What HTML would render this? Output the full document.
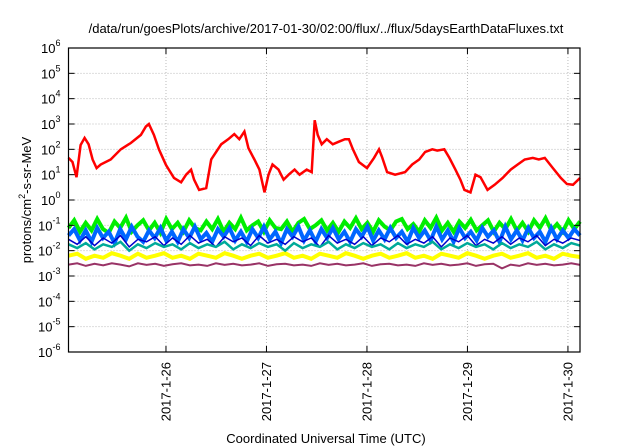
<!DOCTYPE html>
<html><head><meta charset="utf-8"><style>
html,body{margin:0;padding:0;background:#fff;}
svg{display:block;font-family:"Liberation Sans",sans-serif;}
</style></head><body>
<svg id="chart" width="640" height="448" viewBox="0 0 640 448"></svg>
<script>
// ---- data ----
const xTickLabels = ["2017-1-26","2017-1-27","2017-1-28","2017-1-29","2017-1-30"];
const xTickDays = [26,27,28,29,30];
const yTickExps = [-6,-5,-4,-3,-2,-1,0,1,2,3,4,5,6];
const redDays = [25.03,25.07,25.11,25.15,25.19,25.23,25.27,25.31,25.35,25.45,25.55,25.65,25.75,25.8,25.83,25.88,25.93,26.0,26.08,26.15,26.2,26.25,26.28,26.33,26.4,26.45,26.55,26.62,26.68,26.73,26.78,26.82,26.88,26.93,26.98,27.02,27.06,27.12,27.17,27.22,27.28,27.33,27.4,27.45,27.48,27.51,27.55,27.6,27.66,27.72,27.78,27.82,27.86,27.92,28.0,28.07,28.12,28.15,28.2,28.28,28.38,28.45,28.52,28.58,28.65,28.7,28.77,28.82,28.88,28.93,28.97,29.03,29.08,29.13,29.2,29.27,29.35,29.43,29.5,29.57,29.65,29.71,29.77,29.85,29.93,29.99,30.05,30.12];
const redLog = [1.66,1.5,0.9,2.17,2.45,2.2,1.6,1.26,1.4,1.6,2.0,2.25,2.57,2.9,3.0,2.57,2.0,1.38,0.87,0.7,1.0,1.2,0.8,0.4,0.47,1.6,2.2,2.4,2.6,2.4,2.7,2.05,1.6,1.2,0.3,1.0,1.4,1.2,0.8,1.0,1.2,1.0,1.2,1.1,3.15,2.57,2.2,2.4,2.2,2.3,2.4,2.4,2.0,1.5,1.26,1.66,2.0,1.7,1.1,1.0,1.1,1.4,1.6,1.9,2.0,1.95,2.0,1.66,1.2,0.8,0.4,0.3,1.0,0.9,0.4,0.6,0.87,1.2,1.4,1.6,1.66,1.6,1.66,1.26,0.87,0.63,0.6,0.87];
const greenLog = [-1.1,-0.8,-1.25,-0.9,-1.2,-0.75,-1.15,-1.3,-0.85,-1.1,-0.7,-1.25,-1.0,-0.8,-1.2,-0.9,-1.3,-0.75,-1.15,-0.9,-1.25,-0.8,-1.1,-1.2,-0.85,-1.15,-0.75,-1.25,-0.9,-1.15,-0.7,-1.2,-1.0,-0.85,-1.25,-0.8,-1.1,-1.15,-0.85,-1.25,-0.9,-0.75,-1.15,-1.0,-0.8,-1.2,-0.9,-1.25,-0.85,-1.1,-0.72,-1.15,-0.9,-1.25,-0.8,-1.05,-1.2,-0.85,-0.75,-1.15,-0.95,-1.25,-0.8,-1.1,-0.7,-1.2,-0.9,-1.25,-0.85,-1.1,-0.78,-1.2,-1.0,-0.8,-1.25,-0.9,-1.15,-0.75,-1.2,-0.9,-1.25,-0.8,-1.1,-0.72,-1.2,-0.95,-1.25,-0.8,-1.15,-0.85];
const blueLog = [-1.4,-1.15,-1.6,-1.2,-1.65,-1.1,-1.5,-1.25,-1.7,-1.15,-1.55,-1.05,-1.45,-1.65,-1.2,-1.5,-1.1,-1.6,-1.25,-1.65,-1.15,-1.5,-1.05,-1.55,-1.3,-1.65,-1.15,-1.45,-1.1,-1.6,-1.25,-1.65,-1.15,-1.5,-1.05,-1.55,-1.25,-1.7,-1.15,-1.45,-1.05,-1.6,-1.2,-1.65,-1.15,-1.5,-1.1,-1.55,-1.25,-1.65,-1.15,-1.45,-1.05,-1.6,-1.2,-1.55,-1.1,-1.5,-1.25,-1.65,-1.1,-1.5,-1.2,-1.6,-1.05,-1.55,-1.2,-1.65,-1.1,-1.5,-1.25,-1.6,-1.1,-1.45,-1.2,-1.65,-1.05,-1.55,-1.2,-1.6,-1.1,-1.5,-1.25,-1.65,-1.1,-1.55,-1.2,-1.5,-1.15,-1.4];
const darkBlueLog = [-1.55,-1.75,-1.45,-1.8,-1.5,-1.7,-1.4,-1.85,-1.55,-1.65,-1.45,-1.8,-1.5,-1.75,-1.4,-1.7,-1.55,-1.85,-1.45,-1.65,-1.5,-1.8,-1.4,-1.7,-1.55,-1.75,-1.45,-1.65,-1.5,-1.85,-1.4,-1.7,-1.55,-1.75,-1.45,-1.8,-1.5,-1.65,-1.4,-1.75,-1.55,-1.7,-1.45,-1.85,-1.5,-1.65,-1.4,-1.8,-1.55,-1.7,-1.45,-1.75,-1.5,-1.65,-1.4,-1.8,-1.55,-1.7,-1.5,-1.6];
const tealLog = [-1.75,-1.9,-1.7,-1.95,-1.75,-1.85,-1.65,-2.0,-1.75,-1.9,-1.7,-1.85,-1.75,-1.95,-1.7,-1.9,-1.75,-1.85,-1.65,-1.95,-1.75,-1.9,-1.7,-1.85,-1.75,-2.0,-1.7,-1.9,-1.75,-1.85,-1.65,-1.95,-1.75,-1.9,-1.7,-1.85,-1.75,-1.95,-1.7,-1.9,-1.75,-1.85,-1.65,-1.95,-1.75,-1.9,-1.7,-1.85,-1.75,-1.95,-1.7,-1.9,-1.75,-1.85,-1.65,-1.95,-1.75,-1.9,-1.7,-1.8];
const yellowLog = [-2.2,-2.12,-2.32,-2.2,-2.28,-2.1,-2.2,-2.32,-2.12,-2.28,-2.2,-2.1,-2.28,-2.2,-2.32,-2.12,-2.2,-2.28,-2.1,-2.2,-2.32,-2.2,-2.12,-2.28,-2.2,-2.1,-2.28,-2.2,-2.32,-2.12,-2.2,-2.28,-2.1,-2.2,-2.32,-2.2,-2.12,-2.28,-2.2,-2.1,-2.28,-2.2,-2.32,-2.12,-2.2,-2.28,-2.1,-2.2,-2.32,-2.2,-2.12,-2.28,-2.2,-2.1,-2.28,-2.2,-2.32,-2.12,-2.2,-2.25];
const purpleLog = [-2.55,-2.5,-2.6,-2.52,-2.58,-2.5,-2.55,-2.62,-2.5,-2.56,-2.52,-2.6,-2.54,-2.5,-2.58,-2.55,-2.6,-2.5,-2.56,-2.52,-2.58,-2.55,-2.5,-2.6,-2.54,-2.52,-2.58,-2.55,-2.6,-2.5,-2.56,-2.52,-2.58,-2.55,-2.5,-2.6,-2.54,-2.52,-2.58,-2.55,-2.6,-2.5,-2.56,-2.52,-2.58,-2.55,-2.5,-2.6,-2.54,-2.52,-2.7,-2.55,-2.6,-2.5,-2.56,-2.52,-2.58,-2.55,-2.5,-2.56];

// ---- layout ----
const L=68.5,R=580,T=48,B=352;
const dayMin=25.03, dayMax=30.12;
const NS="http://www.w3.org/2000/svg";
const svg=document.getElementById('chart');
function xS(d){return L+(d-dayMin)/(dayMax-dayMin)*(R-L);}
function yS(l){return B-(l+6)/12*(B-T);}
function el(tag,attrs,parent){const e=document.createElementNS(NS,tag);for(const k in attrs)e.setAttribute(k,attrs[k]);(parent||svg).appendChild(e);return e;}

const grid=el('g',{});


yTickExps.forEach(e=>{if(e>-6&&e<6)el('line',{x1:L,x2:R,y1:yS(e),y2:yS(e),stroke:'#bbb','stroke-dasharray':'1,2','stroke-width':1},grid);});
xTickDays.forEach(d=>el('line',{x1:xS(d),x2:xS(d),y1:T,y2:B,stroke:'#bbb','stroke-dasharray':'1,2','stroke-width':1},grid));

function series(name,color,xs,vals,w){
  const pts=vals.map((v,i)=>xS(xs[i]).toFixed(1)+','+yS(v).toFixed(1)).join(' ');
  const p=el('polyline',{points:pts,fill:'none',stroke:color,'stroke-width':w,'stroke-linejoin':'miter'});
  
  
}
function regDays(n){const a=[];for(let i=0;i<n;i++)a.push(dayMin+i*(dayMax-dayMin)/(n-1));return a;}
series('purple-series','#993366',regDays(purpleLog.length),purpleLog,2);
series('yellow-series','#ffff00',regDays(yellowLog.length),yellowLog,4);
series('green-series','#00ee00',regDays(greenLog.length),greenLog,4);
series('blue-series','#0066ff',regDays(blueLog.length),blueLog,4);
series('dark-blue-series','#0000cc',regDays(darkBlueLog.length),darkBlueLog,1.5);
series('teal-series','#00aa99',regDays(tealLog.length),tealLog,2.5);
series('red-series','#ff0000',redDays,redLog,2.5);

const fr=el('rect',{x:L,y:T,width:R-L,height:B-T,fill:'none',stroke:'#000','stroke-width':1.2});



yTickExps.forEach(e=>{
  const y=yS(e);
  el('line',{x1:L,x2:L+6,y1:y,y2:y,stroke:'#000'});
  el('line',{x1:R,x2:R-6,y1:y,y2:y,stroke:'#000'});
  const t=el('text',{x:L-8,y:y+5,'text-anchor':'end','font-size':13,fill:'#000'});
  
  
  t.appendChild(document.createTextNode('10'));
  const s=el('tspan',{dy:-7,'font-size':9},t);s.textContent=String(e);
});
xTickDays.forEach((d,i)=>{
  const x=xS(d);
  el('line',{x1:x,x2:x,y1:B,y2:B-6,stroke:'#000'});
  el('line',{x1:x,x2:x,y1:T,y2:T+6,stroke:'#000'});
  const t=el('text',{x:0,y:0,'text-anchor':'end','font-size':13,fill:'#000',transform:'translate('+(x+4.5)+','+(B+10)+') rotate(-90)'});
  
  
  t.textContent=xTickLabels[i];
});
const title=el('text',{x:326,y:33,'text-anchor':'middle','font-size':13,fill:'#000'});


title.textContent='/data/run/goesPlots/archive/2017-01-30/02:00/flux/../flux/5daysEarthDataFluxes.txt';
const xt=el('text',{x:326,y:443,'text-anchor':'middle','font-size':13,fill:'#000'});


xt.textContent='Coordinated Universal Time (UTC)';
const yt=el('text',{x:0,y:0,'text-anchor':'middle','font-size':13,fill:'#000',transform:'translate(31,200) rotate(-90)'});


yt.appendChild(document.createTextNode('protons/cm'));
const sup=el('tspan',{dy:-6,'font-size':9},yt);sup.textContent='2';
const rest=el('tspan',{dy:6},yt);rest.textContent='-s-sr-MeV';
</script>
</body></html>
